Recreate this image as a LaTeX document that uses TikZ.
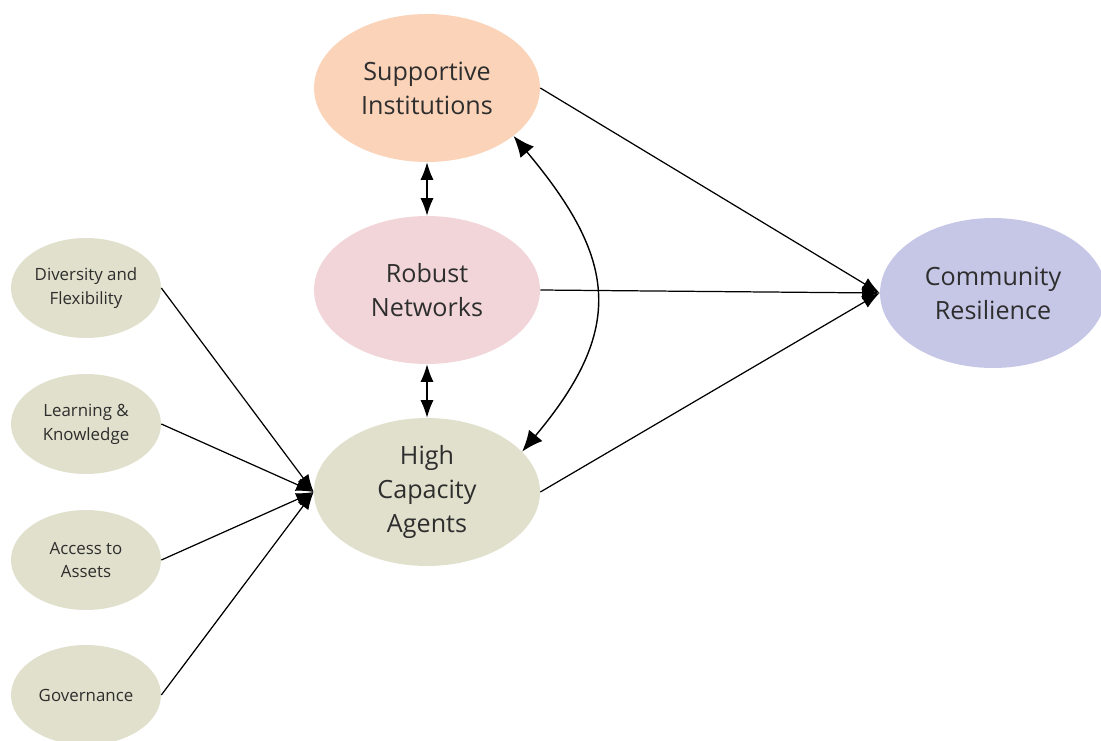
\documentclass[tikz,border=0pt]{standalone}
\usepackage{fontspec}
\setmainfont{Open Sans}
\usetikzlibrary{shapes,arrows.meta}
\definecolor{instcol}{HTML}{FAD3B8}
\definecolor{netcol}{HTML}{F1D5D8}
\definecolor{agentcol}{HTML}{E0E0CC}
\definecolor{rescol}{HTML}{C6C7E7}
\definecolor{txtcol}{HTML}{2E2E2E}
\begin{document}
\begin{tikzpicture}[x=0.02cm,y=-0.02cm,
    big/.style={ellipse,minimum width=4.52cm,minimum height=2.96cm,inner sep=0pt,align=center,
                text=txtcol,font=\fontsize{14.3}{19.3}\selectfont},
    small/.style={ellipse,fill=agentcol,minimum width=3cm,minimum height=2cm,inner sep=0pt,align=center,
                text=txtcol,font=\fontsize{9.6}{13.6}\selectfont},
    link/.style={-{Latex[length=10pt,width=7.5pt]},line width=0.7pt},
    both/.style={{Latex[length=10pt,width=7.5pt]}-{Latex[length=10pt,width=7.5pt]},line width=0.7pt},
    bothbig/.style={{Latex[length=12pt,width=10pt]}-{Latex[length=12pt,width=10pt]},line width=0.8pt}]
\useasboundingbox (0,0) rectangle (1101,740);
% main factors
\node[big,fill=instcol] (sup) at (427,88) {Supportive\\Institutions};
\node[big,fill=netcol] (rob) at (427,290) {Robust\\Networks};
\node[big,fill=agentcol] (hca) at (427,492) {High\\Capacity\\Agents};
\node[big,fill=rescol,minimum height=3cm] (com) at (993,293) {Community\\Resilience};
% agent capacities
\node[small] (div) at (86,288) {Diversity and\\Flexibility};
\node[small] (lrn) at (86,424) {Learning \&\\Knowledge};
\node[small] (acc) at (86,560) {Access to\\Assets};
\node[small] (gov) at (86,695) {Governance};

\draw[link] (sup.east) -- (com.west);
\draw[link] (rob.east) -- (com.west);
\draw[link] (hca.east) -- (com.west);
\draw[both] (sup.south) -- (rob.north);
\draw[both] (rob.south) -- (hca.north);
\draw[bothbig] (sup.-29) to[out=-50,in=50,looseness=1.3] (hca.23);
\draw[link] (div.east) -- (hca.west);
\draw[link] (lrn.east) -- (hca.west);
\draw[link] (acc.east) -- (hca.west);
\draw[link] (gov.east) -- (hca.west);
\end{tikzpicture}
\end{document}
